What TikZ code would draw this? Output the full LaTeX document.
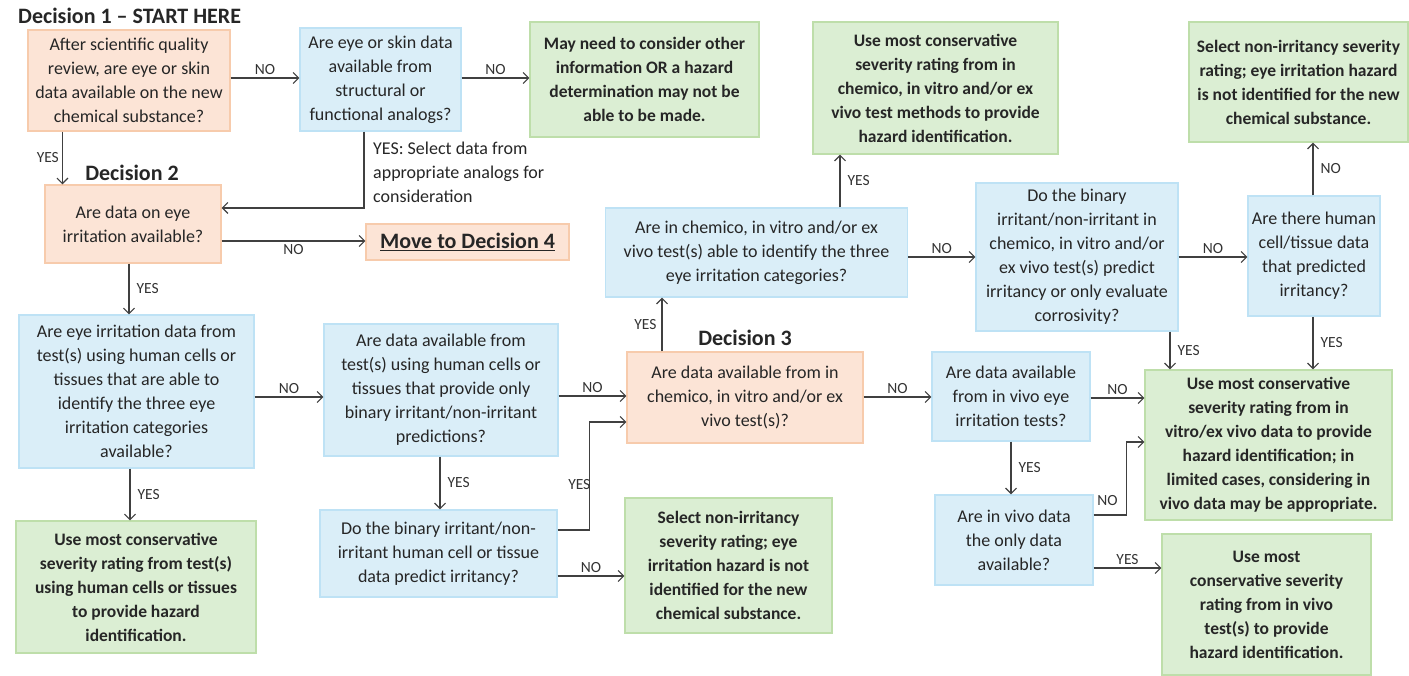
\documentclass[tikz,border=0pt]{standalone}
\usepackage{fontspec}
\setmainfont{Carlito}
\usetikzlibrary{
  calc,
  positioning,
  arrows.meta
}
\definecolor{orfill}{RGB}{252,228,214}
\definecolor{orline}{RGB}{247,203,172}
\definecolor{blfill}{RGB}{218,238,248}
\definecolor{blline}{RGB}{190,226,245}
\definecolor{grfill}{RGB}{219,238,211}
\definecolor{grline}{RGB}{190,222,170}
\definecolor{conn}{RGB}{64,64,64}

\begin{document}
\begin{tikzpicture}[x=1pt,y=-1pt,
  box/.style={rectangle, line width=1.1pt, inner sep=1pt, align=center,
    font=\fontsize{18}{24}\selectfont, text=black!85},
  ask/.style={box, draw=blline, fill=blfill},
  decide/.style={box, draw=orline, fill=orfill},
  result/.style={box, draw=grline, fill=grfill, font=\fontsize{17.5}{24}\selectfont\bfseries},
  head/.style={font=\fontsize{22}{24}\selectfont\bfseries, text=black!85, inner sep=0pt},
  lbl/.style={font=\fontsize{15.5}{17}\selectfont, text=black!80, inner sep=3pt},
  link/.style={->, line width=1.2pt, draw=conn},
  >={Straight Barb[length=5.5pt,width=11pt]}]
\useasboundingbox (0,0) rectangle (1409,676);

% headings
\node[head, anchor=west] (h1) at (18,16) {Decision 1 -- START HERE};
\node[head] (h2) at (132,173) {Decision 2};
\node[head] (h3) at (745,338) {Decision 3};

% top row
\node[decide, minimum width=202pt, minimum height=101pt] (d1) at (129,80.5)
  {After scientific quality\\review, are eye or skin\\data available on the new\\chemical substance?};
\node[ask, minimum width=161pt, minimum height=103pt] (analog) at (380.5,79.5)
  {Are eye or skin data\\available from\\structural or\\functional analogs?};
\node[result, minimum width=229pt, minimum height=115pt] (other) at (644.5,79.5)
  {May need to consider other\\information OR a hazard\\determination may not be\\able to be made.};
\node[result, minimum width=245pt, minimum height=132pt] (chemres) at (935.5,88)
  {Use most conservative\\severity rating from in\\chemico, in vitro and/or ex\\vivo test methods to provide\\hazard identification.};
\node[result, minimum width=219pt, minimum height=120pt] (nonirrtop) at (1298.5,82)
  {Select non-irritancy severity\\rating; eye irritation hazard\\is not identified for the new\\chemical substance.};

% decision 2
\node[decide, minimum width=176pt, minimum height=78pt] (d2) at (133,224)
  {Are data on eye\\irritation available?};
\node[decide, minimum width=203pt, minimum height=36pt,
  font=\fontsize{22}{24}\selectfont\bfseries] (move) at (467.5,242)
  {\underline{Move to Decision 4}};
\node[anchor=north west, inner sep=0pt, align=left,
  font=\fontsize{18}{24}\selectfont, text=black!85] (anlbl) at (373,142)
  {YES: Select data from\\appropriate analogs for\\consideration};

% human cell branch
\node[ask, minimum width=235pt, minimum height=153pt] (human3) at (136.5,391.5)
  {Are eye irritation data from\\test(s) using human cells or\\tissues that are able to\\identify the three eye\\irritation categories\\available?};
\node[result, minimum width=240pt, minimum height=132pt] (humanres) at (136,587)
  {Use most conservative\\severity rating from test(s)\\using human cells or tissues\\to provide hazard\\identification.};
\node[ask, minimum width=234pt, minimum height=132pt] (binhum) at (441,390)
  {Are data available from\\test(s) using human cells or\\tissues that provide only\\binary irritant/non-irritant\\predictions?};
\node[ask, minimum width=237pt, minimum height=87pt] (binpred) at (438.5,553.5)
  {Do the binary irritant/non-\\irritant human cell or tissue\\data predict irritancy?};
\node[result, minimum width=207pt, minimum height=135pt] (nonirrmid) at (728.5,565.5)
  {Select non-irritancy\\severity rating; eye\\irritation hazard is not\\identified for the new\\chemical substance.};

% decision 3
\node[decide, minimum width=236pt, minimum height=91pt] (d3) at (745,397.5)
  {Are data available from in\\chemico, in vitro and/or ex\\vivo test(s)?};
\node[ask, minimum width=302pt, minimum height=89pt] (chem3) at (756.5,252.5)
  {Are in chemico, in vitro and/or ex\\vivo test(s) able to identify the three\\eye irritation categories?};
\node[ask, minimum width=202pt, minimum height=148pt] (binchem) at (1077,257)
  {Do the binary\\irritant/non-irritant in\\chemico, in vitro and/or\\ex vivo test(s) predict\\irritancy or only evaluate\\corrosivity?};
\node[ask, minimum width=132pt, minimum height=120pt] (humcell) at (1314,256)
  {Are there human\\cell/tissue data\\that predicted\\irritancy?};
\node[result, minimum width=247pt, minimum height=150pt] (vitrores) at (1268.5,445)
  {Use most conservative\\severity rating from in\\vitro/ex vivo data to provide\\hazard identification; in\\limited cases, considering in\\vivo data may be appropriate.};
\node[ask, minimum width=158pt, minimum height=89pt] (invivo) at (1011,396.5)
  {Are data available\\from in vivo eye\\irritation tests?};
\node[ask, minimum width=158pt, minimum height=90pt] (vivoonly) at (1014,540)
  {Are in vivo data\\the only data\\available?};
\node[result, minimum width=209pt, minimum height=141pt] (vivores) at (1266.5,604.5)
  {Use most\\conservative severity\\rating from in vivo\\test(s) to provide\\hazard identification.};

% connectors, top row
\draw[link] ([yshift=2.5pt]d1.east) -- ([yshift=2.5pt]d1.east -| analog.west)
  node[lbl, midway, above] {NO};
\draw[link] ([yshift=1.5pt]analog.east) -- ([yshift=1.5pt]analog.east -| other.west)
  node[lbl, midway, above] {NO};
\draw[link] ([xshift=35pt]d1.south west) -- ([xshift=35pt]d1.south west |- d2.north)
  node[lbl, midway, left] {YES};
\draw[link] ([xshift=-16.5pt]analog.south) |- ([yshift=16pt]d2.east);
\draw[link] ([yshift=-17pt]d2.east) -- ([yshift=-17pt]d2.east -| move.west)
  node[lbl, midway, below] {NO};

% connectors, human cell branch
\draw[link] ([xshift=-4pt]d2.south) -- ([xshift=-4pt]d2.south |- human3.north)
  node[lbl, midway, right=4pt] {YES};
\draw[link] ([yshift=-5.5pt]human3.east) -- ([yshift=-5.5pt]human3.east -| binhum.west)
  node[lbl, midway, above] {NO};
\draw[link] ([xshift=-6.5pt]human3.south) -- ([xshift=-6.5pt]human3.south |- humanres.north)
  node[lbl, midway, right=4pt] {YES};
\draw[link] ([yshift=-6pt]binhum.east) -- ([yshift=-6pt]binhum.east -| d3.west)
  node[lbl, midway, above] {NO};
\draw[link] ([xshift=-1pt]binhum.south) -- ([xshift=-1pt]binhum.south |- binpred.north)
  node[lbl, midway, right=4pt] {YES};
\draw[link] ([yshift=23.5pt]binpred.east) -- ++(32,0) coordinate (bend)
  |- ([yshift=-24.5pt]d3.west);
\node[lbl, anchor=east, inner sep=0pt] (ylbl) at ([xshift=1pt,yshift=45pt]bend) {YES};
\draw[link] ([yshift=-22.5pt]binpred.east) -- ([yshift=-22.5pt]binpred.east -| nonirrmid.west)
  node[lbl, midway, above] {NO};

% connectors, decision 3
\draw[link] ([xshift=-83pt]d3.north) -- ([xshift=-83pt]d3.north |- chem3.south)
  node[lbl, midway, left=2pt] {YES};
\draw[link] ([xshift=83.5pt]chem3.north) -- ([xshift=83.5pt]chem3.north |- chemres.south)
  node[lbl, midway, right=4pt] {YES};
\draw[link] ([yshift=-4.5pt]chem3.east) -- ([yshift=-4.5pt]chem3.east -| binchem.west)
  node[lbl, midway, above] {NO};
\draw[link] (binchem.east) -- (binchem.east -| humcell.west)
  node[lbl, midway, above] {NO};
\draw[link] ([xshift=-1pt]humcell.north) -- ([xshift=-1pt]humcell.north |- nonirrtop.south)
  node[lbl, midway, right=4pt] {NO};
\draw[link] ([xshift=93pt]binchem.south) -- ([xshift=93pt]binchem.south |- vitrores.north)
  node[lbl, midway, right=4pt] {YES};
\draw[link] ([xshift=-1pt]humcell.south) -- ([xshift=-1pt]humcell.south |- vitrores.north)
  node[lbl, midway, right=4pt] {YES};
\draw[link] ([yshift=0.5pt]d3.east) -- ([yshift=0.5pt]d3.east -| invivo.west)
  node[lbl, midway, above] {NO};
\draw[link] ([yshift=-1.5pt]invivo.east) -- ([yshift=-1.5pt]invivo.east -| vitrores.west)
  node[lbl, midway, above] {NO};
\draw[link] (invivo.south) -- (invivo.south |- vivoonly.north)
  node[lbl, midway, right=4pt] {YES};
\draw[link] ([yshift=25pt]vivoonly.east) -- ++(33,0) coordinate (bend2)
  |- ([yshift=3pt]vitrores.west);
\node[lbl, inner sep=0pt] (nlbl) at ([xshift=-19pt,yshift=14pt]bend2) {NO};
\draw[link] ([yshift=-28pt]vivoonly.east) -- ([yshift=-28pt]vivoonly.east -| vivores.west)
  node[lbl, midway, above] {YES};
\end{tikzpicture}
\end{document}
